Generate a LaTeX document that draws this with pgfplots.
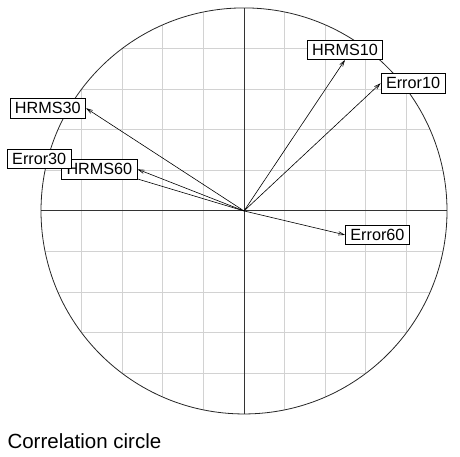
\documentclass[border=0pt]{standalone}
\usepackage{pgfplots}
\pgfplotsset{compat=1.18}
\usepackage{fontspec}
\setmainfont{Liberation Sans}
\usetikzlibrary{arrows.meta}

\tikzset{
  lab/.style={draw=black, line width=0.8pt, fill=white, inner xsep=5pt, inner ysep=4pt,
    font=\fontsize{16.2}{18}\selectfont},
  arr/.style={line width=0.6pt, -{Straight Barb[angle=34:6pt]}},
}

\begin{document}
\begin{tikzpicture}
\begin{axis}[
  scale only axis, width=460pt, height=457pt,
  xmin=-1.202, xmax=1.064, ymin=-1.212, ymax=1.039,
  hide axis, clip=false,
]
% grid, kept inside the circle
\begin{scope}
  \clip (axis cs:0,0) circle [radius=1];
  \pgfplotsinvokeforeach{-0.8,-0.6,-0.4,-0.2,0.2,0.4,0.6,0.8}{
    \draw[gray!35, line width=0.8pt] (axis cs:#1,-1) -- (axis cs:#1,1);
    \draw[gray!35, line width=0.8pt] (axis cs:-1,#1) -- (axis cs:1,#1);
  }
\end{scope}
\draw[black!80, line width=0.9pt] (axis cs:-1,0) -- (axis cs:1,0);
\draw[black!80, line width=0.9pt] (axis cs:0,-1) -- (axis cs:0,1);
\draw[black!85, line width=0.8pt] (axis cs:0,0) circle [radius=1];

% arrows
\addplot[arr] coordinates {(0,0) (0.4975,0.744)};   % HRMS10
\addplot[arr] coordinates {(0,0) (0.673,0.629)};    % Error10
\addplot[arr] coordinates {(0,0) (-0.778,0.506)};   % HRMS30
\addplot[arr] coordinates {(0,0) (-0.849,0.255)};   % Error30
\addplot[arr] coordinates {(0,0) (-0.524,0.205)};   % HRMS60
\addplot[arr] coordinates {(0,0) (0.4975,-0.118)};  % Error60

% labels
\node[lab, anchor=south] at (axis cs:0.4975,0.744) {HRMS10};
\node[lab, anchor=west]  at (axis cs:0.673,0.629) {Error10};
\node[lab, anchor=east]  at (axis cs:-0.778,0.506) {HRMS30};
\node[lab, anchor=east]  at (axis cs:-0.524,0.205) {HRMS60};
\node[lab, anchor=east]  at (axis cs:-0.849,0.255) {Error30};
\node[lab, anchor=west]  at (axis cs:0.4975,-0.118) {Error60};

\node[anchor=base west, inner sep=0pt, font=\fontsize{20.5}{24}\selectfont]
  at (axis cs:-1.166,-1.1724) {Correlation circle};
\end{axis}
\pgfresetboundingbox
\path[use as bounding box] (current axis.south west) rectangle (current axis.north east);
\end{tikzpicture}
\end{document}
